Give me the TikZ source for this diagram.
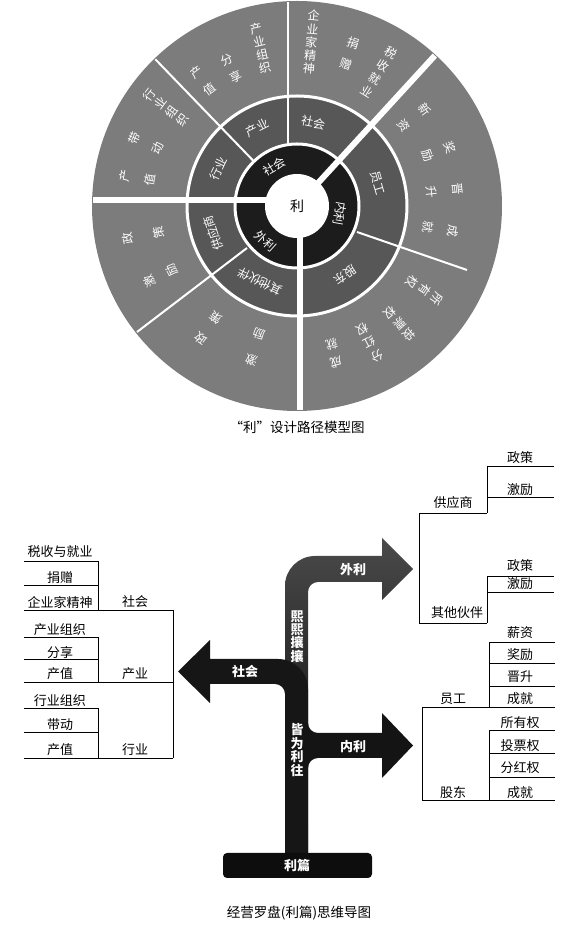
\documentclass[tikz,border=0pt]{standalone}
\usepackage{fontspec}
\setmainfont{Noto Sans CJK SC}
\usetikzlibrary{positioning}
\definecolor{ringout}{HTML}{7C7C7C}
\definecolor{ringmid}{HTML}{575757}
\definecolor{ringin}{HTML}{1C1C1C}
\definecolor{armgray}{HTML}{4A4A4A}
\definecolor{armdark}{HTML}{161616}

\tikzset{
  wlab/.style={text=white, font=\fontsize{12}{12}\selectfont, inner sep=0pt},
  blab/.style={font=\fontsize{13}{13}\selectfont, inner sep=0pt},
  alab/.style={text=white, font=\fontsize{13}{13.4}\selectfont\bfseries, inner sep=0pt, align=center},
  tline/.style={line width=0.8pt},
}
% one radial column of the wheel: name, angle, outer radius, step, characters
\newcommand\radcol[5]{%
  \foreach \ch [count=\k from 0] in {#5}
    \node[wlab, rotate=#2-90] (#1-\k) at (#2:{#3-#4*\k}) {\ch};%
}

\begin{document}
\begin{tikzpicture}[x=1pt, y=1pt]
  \useasboundingbox (0,0) rectangle (580,938);

  % ---- wheel ----
  \begin{scope}[shift={(297,732)}]
    \fill[ringout] (0,0) circle (205pt);
    \fill[ringmid] (0,0) circle (110pt);
    \fill[ringin] (0,0) circle (62pt);
    \begin{scope}
      \clip (0,0) circle (204pt);
      % main dividers
      \draw[white, line width=6pt] (0,6) -- (-210,6);
      \draw[white, line width=6pt] (0,0) -- (47.5:215);
      \draw[white, line width=6pt] (3,0) -- (3,-210);
      % sub dividers
      \draw[white, line width=2pt] (-9,61) -- (-9,210);
      \draw[white, line width=2pt] (134:63) -- (134:210);
      \draw[white, line width=2pt] (60,-26) -- (170,-64);
      \draw[white, line width=2pt] (-50,-42) -- (-160,-126);
    \end{scope}
    \draw[white, line width=3pt] (0,0) circle (110pt) (0,0) circle (62pt);
    \fill[white] (0,0) circle (32pt);
    \node[blab, font=\fontsize{14}{14}\selectfont] (li) at (0,0) {利};

    % inner ring
    \node[wlab, rotate=30] (in-sh) at (120:45) {社会};
    \node[wlab, rotate=-100] (in-nl) at (-10:44) {内利};
    \node[wlab, rotate=-42] (in-wl) at (228:47) {外利};

    % middle ring
    \node[wlab, rotate=64.6] (md-hy) at (154.6:87) {行业};
    \node[wlab, rotate=27] (md-cy) at (117:88) {产业};
    \node[wlab, rotate=-11] (md-sh) at (79:85) {社会};
    \node[wlab, rotate=-74] (md-yg) at (16:84) {员工};
    \node[wlab, rotate=-145] (md-gd) at (-55:84) {股东};
    \node[wlab, rotate=154] (md-qt) at (244:84) {其他伙伴};
    \node[wlab, rotate=108] (md-gy) at (198:88) {供应商};

    % outer ring
    \radcol{sh1}{85}{191}{13.2}{企,业,家,精,神}
    \radcol{sh2}{71}{172}{22}{捐,赠}
    \radcol{sh3}{58.5}{180}{15.3}{税,收,就,业}
    \radcol{cy1}{103}{182}{13.3}{产,业,组,织}
    \radcol{cy2}{115.5}{162}{19}{分,享}
    \radcol{cy3}{127}{167}{21}{产,值}
    \radcol{hy1}{143}{185}{14}{行,业,组,织}
    \radcol{hy2}{157.5}{176}{25}{带,动}
    \radcol{hy3}{170}{175}{26}{产,值}
    \radcol{yg1}{37}{160}{26}{新,资}
    \radcol{yg2}{21}{164}{24}{奖,励}
    \radcol{yg3}{6}{161}{26}{晋,升}
    \radcol{yg4}{-9}{158}{25}{成,就}
    \radcol{gd1}{-33.5}{168}{15}{所,有,权}
    \radcol{gd2}{-49}{171}{15}{投,票,权}
    \radcol{gd3}{-62}{170}{15}{分,红,权}
    \radcol{gd4}{-76}{161}{18}{成,就}
    \radcol{gy1}{191}{172}{31}{政,策}
    \radcol{gy2}{207}{165}{24}{激,励}
    \radcol{qt1}{234}{164}{26}{政,策}
    \radcol{qt2}{253.5}{161}{27}{激,励}
  \end{scope}

  \node[blab, font=\fontsize{13.5}{13.5}\selectfont] (cap1) at (297,511) {“利”设计路径模型图};

  % ---- arrows ----
  \shade[top color=armgray, bottom color=black]
    (285,85) -- (285,352) arc[start angle=180, end angle=90, radius=30]
    -- (382,382) -- (382,400) -- (413,369) -- (382,338) -- (382,356)
    -- (318,356) arc[start angle=90, end angle=180, radius=10]
    -- (308,85) -- cycle;
  \fill[armdark]
    (308,85) -- (308,249) arc[start angle=0, end angle=90, radius=30]
    -- (210,279) -- (210,298) -- (178,266.5) -- (210,235) -- (210,254)
    -- (275,254) arc[start angle=90, end angle=0, radius=10]
    -- (285,85) -- cycle;
  \fill[black!92]
    (308,215) arc[start angle=180, end angle=270, radius=10]
    -- (382,205) -- (382,225) -- (413,192.5) -- (382,160) -- (382,180)
    -- (318,180) arc[start angle=90, end angle=180, radius=10]
    -- (296,170) -- (296,215) -- cycle;
  \fill[black!95, rounded corners=4pt] (223,60) rectangle (372,85);

  \node[alab] (root) at (297,72.5) {利篇};
  \node[alab] (a-wl) at (353,368) {外利};
  \node[alab] (a-sh) at (245,266) {社会};
  \node[alab] (a-nl) at (353,191) {内利};
  \node[alab] (v-xx) at (297,301.5) {熙\\熙\\攘\\攘};
  \node[alab] (v-jw) at (297,188) {皆\\为\\利\\往};

  % ---- left tree ----
  \node[blab] (l1) at (60,386) {税收与就业};
  \node[blab] (l2) at (60,360) {捐赠};
  \node[blab] (l3) at (60,336) {企业家精神};
  \node[blab] (g-sh) at (135,336) {社会};
  \node[blab] (l4) at (60,308) {产业组织};
  \node[blab] (l5) at (60,285) {分享};
  \node[blab] (l6) at (60,264) {产值};
  \node[blab] (g-cy) at (135,264) {产业};
  \node[blab] (l7) at (60,237) {行业组织};
  \node[blab] (l8) at (60,213) {带动};
  \node[blab] (l9) at (60,188) {产值};
  \node[blab] (g-hy) at (135,188) {行业};
  \foreach \y in {377,353,301,279,230,206}
    \draw[tline] (24,\y) -- (98,\y);
  \foreach \y in {328,256,180}
    \draw[tline] (24,\y) -- (173,\y);
  \draw[tline] (98,377) -- (98,328) (98,301) -- (98,256) (98,230) -- (98,180)
    (173,328) -- (173,180);

  % ---- right tree ----
  \node[blab] (r1) at (520,480) {政策};
  \node[blab] (r2) at (520,448) {激励};
  \node[blab] (g-gy) at (453,435) {供应商};
  \node[blab] (r3) at (520,372) {政策};
  \node[blab] (r4) at (520,354) {激励};
  \node[blab] (g-qt) at (457,325) {其他伙伴};
  \node[blab] (r5) at (520,305) {薪资};
  \node[blab] (r6) at (520,283) {奖励};
  \node[blab] (r7) at (520,261) {晋升};
  \node[blab] (r8) at (520,239) {成就};
  \node[blab] (g-yg) at (453,239) {员工};
  \node[blab] (r9) at (520,215) {所有权};
  \node[blab] (r10) at (520,192) {投票权};
  \node[blab] (r11) at (520,170) {分红权};
  \node[blab] (r12) at (520,145) {成就};
  \node[blab] (g-gd) at (453,145) {股东};
  \foreach \y in {472,441,362,346}
    \draw[tline] (487,\y) -- (554,\y);
  \foreach \y in {425,315}
    \draw[tline] (419,\y) -- (487,\y);
  \draw[tline] (487,472) -- (487,425) (487,362) -- (487,315) (419,425) -- (419,315);
  \foreach \y in {296,275,252,208,185,161}
    \draw[tline] (489,\y) -- (555,\y);
  \foreach \y in {231,138}
    \draw[tline] (422,\y) -- (555,\y);
  \draw[tline] (489,296) -- (489,231) (489,208) -- (489,138) (422,231) -- (422,138);

  \node[blab, font=\fontsize{13.5}{13.5}\selectfont] (cap2) at (299,25) {经营罗盘(利篇)思维导图};
\end{tikzpicture}
\end{document}
